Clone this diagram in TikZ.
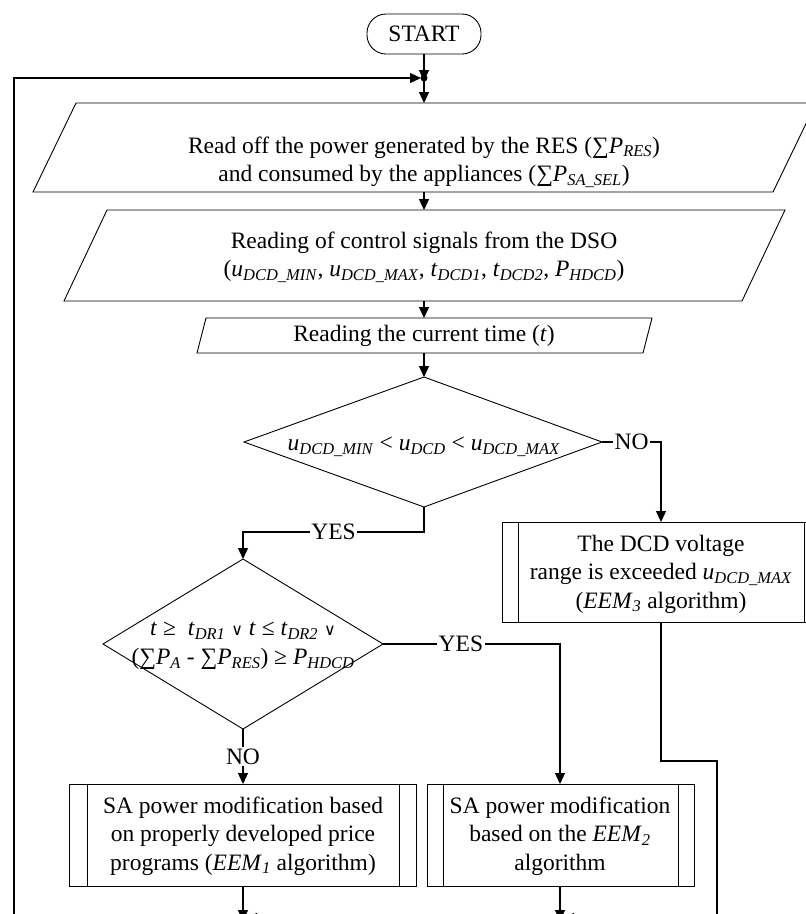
\documentclass[tikz,border=0pt]{standalone}
\usepackage{fontspec}
\setmainfont{Liberation Serif}
\newfontfamily\djv{DejaVu Serif}
\usetikzlibrary{arrows.meta}
\newcommand\vv[2]{\textit{#1}\textsubscript{\textit{#2}}}
\newcommand\fs{\fontsize{23.5}{28.5}\selectfont}
\newcommand\orr{{\djv\fontsize{16}{20}\selectfont ∨}}
\tikzset{
  conn/.style={line width=1.2pt},
  arr/.style={line width=1.2pt, -{Triangle[length=11pt,width=10pt]}},
  shp/.style={line width=0.9pt},
  txt/.style={align=center, inner sep=0pt, font=\fs},
  lab/.style={fill=white, inner sep=1.5pt, font=\fs},
}
\begin{document}
\begin{tikzpicture}[x=1pt,y=-1pt]
\useasboundingbox (0,0) rectangle (806,914);
\begin{scope}
\clip (0,0) rectangle (806,914);
\fill[white] (0,0) rectangle (806,914);

% START
\node[draw, shp, rounded corners=19pt, minimum width=114pt, minimum height=40pt, inner sep=0pt, font=\fs] (start) at (424,34) {START};

% junction
\coordinate (j) at (424,78);
\fill (j) circle (3.5);

% parallelogram 1
\draw[shp] (76,103) -- (816,103) -- (773,192) -- (33,192) -- cycle;
\coordinate (p1t) at (424,103);
\coordinate (p1b) at (424,192);
\node[txt] (p1) at (424,162) {Read off the power generated by the RES (∑\vv{P}{RES})\\and consumed by the appliances (∑\vv{P}{SA\_SEL})};

% parallelogram 2
\draw[shp] (107,210) -- (785,210) -- (742,301) -- (64,301) -- cycle;
\coordinate (p2t) at (424,210);
\coordinate (p2b) at (424,301);
\node[txt] (p2) at (424,257) {Reading of control signals from the DSO\\(\vv{u}{DCD\_MIN}, \vv{u}{DCD\_MAX}, \vv{t}{DCD1}, \vv{t}{DCD2}, \vv{P}{HDCD})};

% parallelogram 3
\draw[shp] (206,318) -- (652,318) -- (643,353) -- (197,353) -- cycle;
\coordinate (p3t) at (424,318);
\coordinate (p3b) at (424,353);
\node[txt] (p3) at (424,336) {Reading the current time (\textit{t})};

% diamond 1
\coordinate (d1t) at (424,377);
\coordinate (d1r) at (602,442);
\coordinate (d1b) at (424,507);
\coordinate (d1l) at (244,442);
\draw[shp] (d1t) -- (d1r) -- (d1b) -- (d1l) -- cycle;
\node[txt] (d1) at (424,447) {\vv{u}{DCD\_MIN} < \vv{u}{DCD} < \vv{u}{DCD\_MAX}};

% DCD box
\draw[shp] (502,522) rectangle (820,622);
\draw[shp] (518,522) -- (518,622);
\draw[shp] (804,522) -- (804,622);
\coordinate (dcdt) at (661,522);
\coordinate (dcdb) at (661,622);
\node[txt] (dcd) at (661,574) {The DCD voltage\\range is exceeded \vv{u}{DCD\_MAX}\\(\vv{EEM}{3} algorithm)};

% diamond 2
\coordinate (d2t) at (243,559);
\coordinate (d2r) at (383,644);
\coordinate (d2b) at (243,729);
\coordinate (d2l) at (103,644);
\draw[shp] (d2t) -- (d2r) -- (d2b) -- (d2l) -- cycle;
\node[txt] (d2) at (243,646) {\textit{t} ≥\ \ \vv{t}{DR1} \orr\ \textit{t} ≤ \vv{t}{DR2} \orr\\(∑\vv{P}{A} - ∑\vv{P}{RES}) ≥ \vv{P}{HDCD}};

% box 1
\draw[shp] (69,784) rectangle (416,886);
\draw[shp] (87,784) -- (87,886);
\draw[shp] (399,784) -- (399,886);
\coordinate (b1t) at (243,784);
\coordinate (b1b) at (243,886);
\node[txt] (b1) at (243,836) {SA power modification based\\on properly developed price\\programs (\vv{EEM}{1} algorithm)};

% box 2
\draw[shp] (427,784) rectangle (694,886);
\draw[shp] (443,784) -- (443,886);
\draw[shp] (678,784) -- (678,886);
\coordinate (b2t) at (560,784);
\coordinate (b2b) at (560,886);
\node[txt] (b2) at (560,836) {SA power modification\\based on the \vv{EEM}{2}\\algorithm};

% connectors
\draw[arr] (start.south) -- ([yshift=-3pt]j);
\coordinate (loopL) at (14,940);
\draw[arr] (loopL) |- ([xshift=-3pt]j);
\draw[arr] (j) -- (p1t);
\draw[arr] (p1b) -- (p2t);
\draw[arr] (p2b) -- (p3t);
\draw[arr] (p3b) -- (d1t);
\draw[arr] (d1r) -| node[lab,pos=0.25]{NO} (dcdt);
\draw[arr] (d1b) -- ++(0,25) -| node[lab,pos=0.25]{YES} (d2t);
\draw[arr] (d2r) -| node[lab,pos=0.22]{YES} (b2t);
\draw[arr] (d2b) -- node[lab]{NO} (b1t);
\coordinate (loopR) at (717,940);
\draw[conn] (dcdb) -- ++(0,139) -| (loopR);

% bottom junctions (cut by the frame)
\coordinate (e1) at (243,918);
\coordinate (e2) at (560,918);
\coordinate (e1s) at (285,918);
\coordinate (e2s) at (602,918);
\draw[arr] (b1b) -- ([yshift=-3pt]e1);
\draw[arr] (b2b) -- ([yshift=-3pt]e2);
\fill (e1) circle (3.5);
\fill (e2) circle (3.5);
\draw[arr] (e1s) -- ([xshift=3pt]e1);
\draw[arr] (e2s) -- ([xshift=3pt]e2);
\end{scope}
\end{tikzpicture}
\end{document}
